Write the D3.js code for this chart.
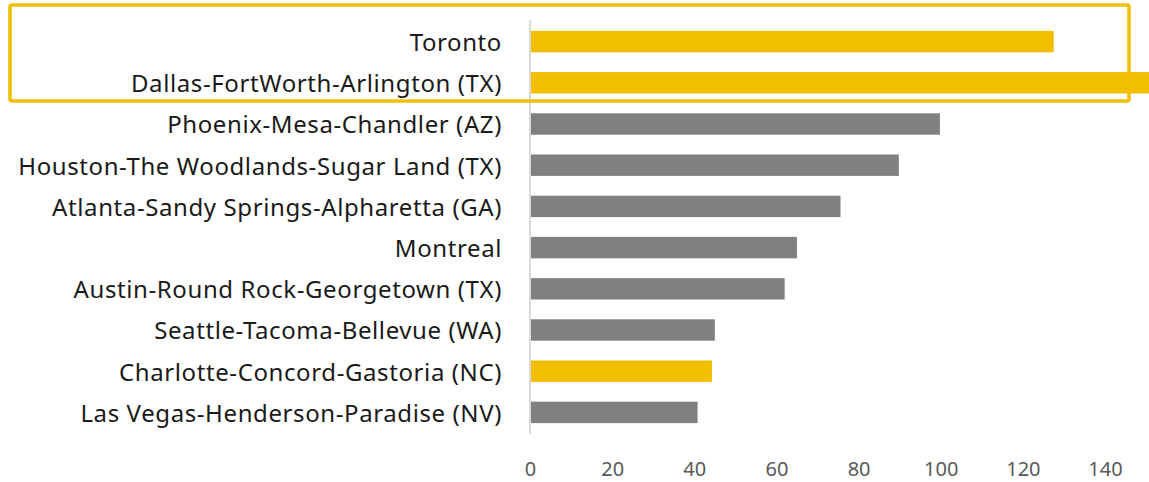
<!DOCTYPE html>
<html>
<head>
<meta charset="utf-8">
<script src="https://cdn.jsdelivr.net/npm/d3@7"></script>
<style>
    body { margin: 0; background: #fff; }
    svg { display: block; }
    .cat-label { font-family: "Noto Sans", sans-serif; font-size: 24px; letter-spacing: 0.6px; fill: #1a1a1a; }
    .x-axis text { font-family: "Noto Sans", sans-serif; font-size: 20px; fill: #595959; }
</style>
</head>
<body>
<div id="chart-ctn"></div>
<script>
// Data
let cities = [
    "Toronto",
    "Dallas-FortWorth-Arlington (TX)",
    "Phoenix-Mesa-Chandler (AZ)",
    "Houston-The Woodlands-Sugar Land (TX)",
    "Atlanta-Sandy Springs-Alpharetta (GA)",
    "Montreal",
    "Austin-Round Rock-Georgetown (TX)",
    "Seattle-Tacoma-Bellevue (WA)",
    "Charlotte-Concord-Gastoria (NC)",
    "Las Vegas-Henderson-Paradise (NV)",
];
let values = [127.5, 153, 99.8, 89.8, 75.6, 65, 62, 45, 44.3, 40.8];
let highlighted = ["Toronto", "Dallas-FortWorth-Arlington (TX)", "Charlotte-Concord-Gastoria (NC)"];
let tickValues = [0, 20, 40, 60, 80, 100, 120, 140];

let width = 1149;
let height = 482;

let svg = d3
    .select("#chart-ctn")
    .append("svg")
    .attr("width", width)
    .attr("height", height);

let x = d3.scaleLinear().domain([0, 140]).range([530, 1105]);
let y = d3
    .scaleBand()
    .domain(cities)
    .range([21, 433])
    .paddingInner(0.48)
    .paddingOuter(0.24);

// Bars
svg.append("g")
    .selectAll("rect")
    .data(cities)
    .join("rect")
    .attr("x", x(0))
    .attr("y", (d) => y(d))
    .attr("width", (d, i) => x(values[i]) - x(0))
    .attr("height", y.bandwidth())
    .attr("fill", (d) => (highlighted.includes(d) ? "#f1bf00" : "#808080"));

// Zero line
svg.append("line")
    .attr("x1", x(0))
    .attr("x2", x(0))
    .attr("y1", 20)
    .attr("y2", 434)
    .attr("stroke", "#d9d9d9")
    .attr("stroke-width", 2);

// Category labels
svg.append("g")
    .selectAll("text")
    .data(cities)
    .join("text")
    .attr("class", "cat-label")
    .attr("x", 502)
    .attr("y", (d) => y(d) + y.bandwidth() / 2 + 1)
    .attr("dy", "0.35em")
    .attr("text-anchor", "end")
    .text((d) => d);

// X axis (labels only)
let xAxis = d3.axisBottom(x).tickValues(tickValues).tickSize(0).tickPadding(0);
svg.append("g")
    .attr("class", "x-axis")
    .attr("transform", "translate(0,462)")
    .call(xAxis)
    .call((g) => g.select(".domain").remove());

// Highlight box around the top two rows
svg.append("rect")
    .attr("x", 10)
    .attr("y", 5)
    .attr("width", 1119)
    .attr("height", 96)
    .attr("rx", 2)
    .attr("fill", "none")
    .attr("stroke", "#f1bf00")
    .attr("stroke-width", 3.5);
</script>
</body>
</html>
